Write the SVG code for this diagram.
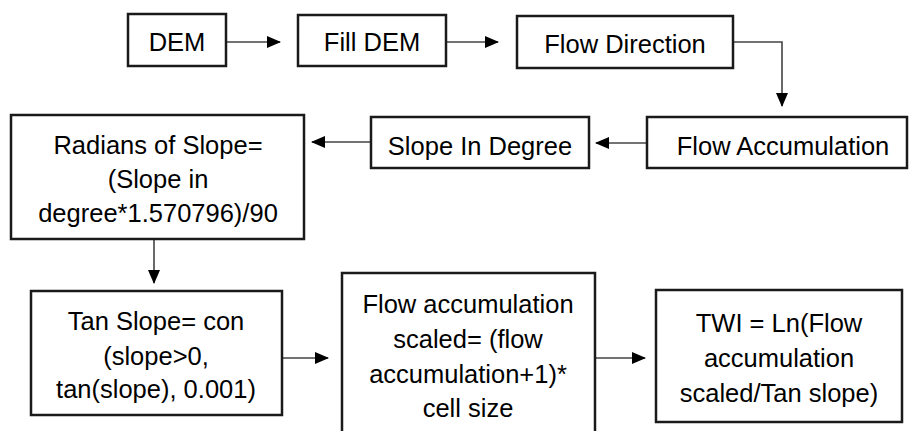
<svg xmlns="http://www.w3.org/2000/svg" width="909" height="431" viewBox="0 0 909 431">
<defs>
<style>
.box{fill:#fff;stroke:#1a1a1a;stroke-width:2.5}
.t{font-family:"Liberation Sans",Arial,sans-serif;font-size:25.5px;fill:#000;text-anchor:middle}
.c{fill:none;stroke:#444;stroke-width:1.6}
</style>
<marker id="ah" markerWidth="14" markerHeight="12" refX="13" refY="6" orient="auto" markerUnits="userSpaceOnUse">
<path d="M0,0 L14,6 L0,12 Z" fill="#000"/>
</marker>
</defs>
<rect width="909" height="431" fill="#fff"/>
<g id="connectors">
<path class="c" d="M226,42 H280" marker-end="url(#ah)"/>
<path class="c" d="M446,42 H498" marker-end="url(#ah)"/>
<path class="c" d="M733,42 H782 V106" marker-end="url(#ah)"/>
<path class="c" d="M647,143 H596" marker-end="url(#ah)"/>
<path class="c" d="M371,142 H312" marker-end="url(#ah)"/>
<path class="c" d="M154,239 V283" marker-end="url(#ah)"/>
<path class="c" d="M282,358 H328" marker-end="url(#ah)"/>
<path class="c" d="M595,358 H645" marker-end="url(#ah)"/>
</g>
<g id="dem">
<rect class="box" x="128" y="14" width="98" height="52"/>
<text class="t" x="177" y="51">DEM</text>
</g>
<g id="fill-dem">
<rect class="box" x="298" y="15" width="148" height="51"/>
<text class="t" x="372" y="51">Fill DEM</text>
</g>
<g id="flow-direction">
<rect class="box" x="517" y="16" width="216" height="52"/>
<text class="t" x="625" y="53">Flow Direction</text>
</g>
<g id="flow-accumulation">
<rect class="box" x="647" y="117" width="260" height="51"/>
<text class="t" x="783" y="155">Flow Accumulation</text>
</g>
<g id="slope-in-degree">
<rect class="box" x="371" y="117" width="218" height="51"/>
<text class="t" x="480" y="155">Slope In Degree</text>
</g>
<g id="radians">
<rect class="box" x="11" y="115" width="293" height="124"/>
<text class="t" x="158" y="154">Radians of Slope=</text>
<text class="t" x="158" y="188">(Slope in</text>
<text class="t" x="158" y="222">degree*1.570796)/90</text>
</g>
<g id="tan-slope">
<rect class="box" x="31" y="291" width="251" height="124"/>
<text class="t" x="156" y="330">Tan Slope= con</text>
<text class="t" x="156" y="365">(slope&gt;0,</text>
<text class="t" x="156" y="398">tan(slope), 0.001)</text>
</g>
<g id="flow-acc-scaled">
<rect class="box" x="342" y="273" width="253" height="170"/>
<text class="t" x="468" y="313">Flow accumulation</text>
<text class="t" x="468" y="348">scaled= (flow</text>
<text class="t" x="468" y="383">accumulation+1)*</text>
<text class="t" x="468" y="417">cell size</text>
</g>
<g id="twi">
<rect class="box" x="656" y="290" width="246" height="132"/>
<text class="t" x="779" y="332">TWI = Ln(Flow</text>
<text class="t" x="779" y="367">accumulation</text>
<text class="t" x="779" y="402">scaled/Tan slope)</text>
</g>
</svg>
